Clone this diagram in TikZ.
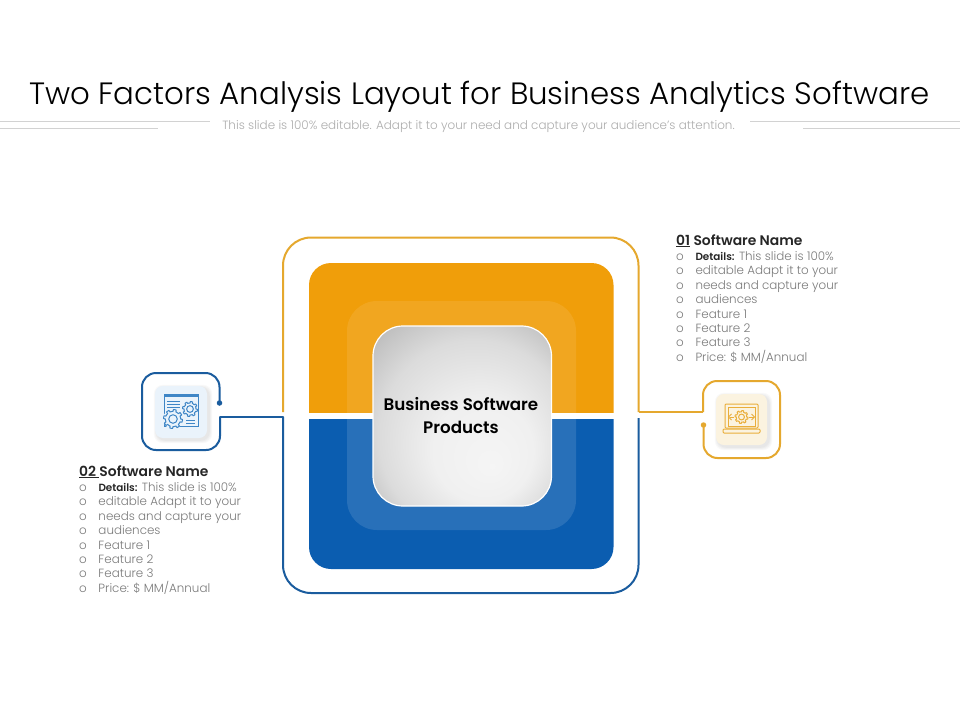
\documentclass[tikz,border=0pt]{standalone}
\usepackage{fontspec}
\setmainfont{Poppins}[UprightFont=* Light,BoldFont=* SemiBold]
\newfontfamily\medfont{Poppins SemiBold}
\usetikzlibrary{calc}
\definecolor{orA}{HTML}{E5A82E}
\definecolor{orB}{HTML}{F09E0A}
\definecolor{blA}{HTML}{1A5C9E}
\definecolor{blB}{HTML}{0B5DB0}
\definecolor{icB}{HTML}{3F86C6}
\definecolor{icO}{HTML}{E9AE3B}
\definecolor{tileB}{HTML}{EAF3FB}
\definecolor{tileO}{HTML}{FBF3E0}
\definecolor{txt}{HTML}{7A7A7A}
\definecolor{hd}{HTML}{262626}
\pgfdeclareradialshading{centershade}{\pgfpoint{0.3cm}{-0.5cm}}{
  color(0cm)=(white!96!black);
  color(0.5cm)=(white!94!black);
  color(0.95cm)=(white!86!black);
  color(1.25cm)=(white!75!black);
  color(1.6cm)=(white!70!black)}
\newcommand{\softshadow}[4]{%
  \foreach \k in {4,3,2,1}{
    \fill[black,opacity=0.022,rounded corners=9pt]
      ({#1+2-\k*0.8},{#2+2-\k*0.8}) rectangle ({#3+2+\k*0.8},{#4+2+\k*0.8});
  }}
\newcommand{\gearicon}[4]{%
  \draw[#4,line width=1pt,line join=round]
    plot[domain=0:360,samples=145,variable=\t,smooth]
      ({#1+#3*(0.8+0.2*(sin(8*\t)>0))*cos(\t)},{#2+#3*(0.8+0.2*(sin(8*\t)>0))*sin(\t)}) -- cycle;
  \draw[#4,line width=1pt] (#1,#2) circle[radius=0.45*#3];}
\tikzset{
  x=1pt,y=-1pt,
  orline/.style={orA,line width=2pt},
  blline/.style={blA,line width=2pt},
  tile/.style={draw=none,rounded corners=8pt,minimum width=52pt,minimum height=52pt,inner sep=0pt,outer sep=0pt},
  sideline/.style={gray!35,line width=0.8pt},
  infotext/.style={anchor=north west,align=left,inner sep=0pt,outer sep=0pt,text=txt,
    font=\fontsize{11.9}{14.4}\selectfont},
  endpoint/.style={circle,minimum size=5.5pt,inner sep=0pt},
  centrefont/.style={font=\fontsize{16.7}{23.5}\selectfont\medfont}
}
\newcommand{\li}[1]{\makebox[19.5pt][l]{o}#1}
\newcommand{\detlabel}{{\fontsize{10.4}{14.4}\selectfont\textbf{\color{hd}Details:}}}
\begin{document}
\begin{tikzpicture}
\useasboundingbox (0,0) rectangle (960,720);
\fill[white] (0,0) rectangle (960,720);

% title
\node[anchor=center,inner sep=0pt,text=black] (title) at (479.5,96.5)
  {\fontsize{30.85}{36}\selectfont Two Factors Analysis Layout for Business Analytics Software};
\node[anchor=center,inner sep=0pt,text=black!32] (sub) at (478.5,126.5)
  {\fontsize{11.95}{13}\selectfont This slide is 100\% editable. Adapt it to your need and capture your audience's attention.};
\coordinate (l1a) at (0,121); \coordinate (l1b) at (210,121);
\coordinate (l2a) at (0,128); \coordinate (l2b) at (158,128);
\coordinate (r1a) at (750,121); \coordinate (r1b) at (960,121);
\coordinate (r2a) at (803,128); \coordinate (r2b) at (960,128);
\draw[sideline] (l1a)--(l1b); \draw[sideline] (l2a)--(l2b);
\draw[sideline] (r1a)--(r1b); \draw[sideline] (r2a)--(r2b);

% blocks
\begin{scope}
  \clip (300,250) rectangle (625,412);
  \fill[orB,rounded corners=22pt] (309,263) rectangle (613.5,569);
  \fill[white,opacity=0.09,rounded corners=30pt] (347,301) rectangle (576,530);
\end{scope}
\begin{scope}
  \clip (300,419) rectangle (625,580);
  \fill[blB,rounded corners=22pt] (309,263) rectangle (613.5,569);
  \fill[white,opacity=0.12,rounded corners=30pt] (347,301) rectangle (576,530);
\end{scope}

% centre
\begin{scope}
  \clip[rounded corners=30pt] (373,326) rectangle (551.5,506);
  \shade[shading=centershade] (373,326) rectangle (551.5,506);
\end{scope}
\draw[white,line width=1.2pt,rounded corners=30pt] (373,326) rectangle (551.5,506);
\node[inner sep=0pt,align=center,text=black,centrefont] (centre) at (461,415.5)
  {Business Software\\Products};

% outer frame
\coordinate (oL) at (283,412); \coordinate (oR) at (638.5,412);
\coordinate (bL) at (283,417); \coordinate (bR) at (638.5,418);
\draw[orline,rounded corners=28pt] (oL)--(283,237.5)--(638.5,237.5)--(oR);
\draw[blline,rounded corners=28pt] (bL)--(283,593)--(638.5,593)--(bR);

% left icon
\softshadow{155}{386}{207}{438}
\node[tile,fill=tileB] (ltile) at (181,412) {};
\coordinate (lJ) at (220,417);
\node[endpoint,fill=blA] (ldot) at (219.5,403) {};
\draw[blline,line cap=round] (bL)--(lJ);
\draw[blline,rounded corners=14pt] (lJ)--(220,450)--(142,450)--(142,373)--(219.5,373)--(ldot.center);
\draw[icB,line width=1pt] (164,394) rectangle (198,426);
\fill[icB] (164,394) rectangle (198,397);
\foreach \yy in {401,404,407}{\draw[icB,line width=0.9pt] (167,\yy)--(180,\yy);}
\foreach \yy in {420,423}{\draw[icB,line width=0.9pt] (186,\yy)--(195,\yy);}
\fill[tileB] (173,419) circle[radius=10];
\fill[tileB] (190,409) circle[radius=8];
\gearicon{173}{419}{9.5}{icB}
\gearicon{190}{409}{7.5}{icB}

% right icon
\softshadow{716}{394}{767}{445}
\node[tile,fill=tileO,minimum width=51pt,minimum height=51pt] (rtile) at (741.5,419.5) {};
\coordinate (rJ) at (703,412);
\node[endpoint,fill=orA] (rdot) at (703.5,425) {};
\draw[orline] (oR)--(rJ);
\draw[orline,rounded corners=14pt] (rJ)--(703,381)--(780,381)--(780,458)--(703.5,458)--(rdot.center);
\draw[icO,line width=1pt,rounded corners=1pt] (725,404) rectangle (758,428);
\draw[icO,line width=1pt] (728,407) rectangle (755,426);
\draw[icO,line width=1pt,rounded corners=1pt] (723,429)--(723,433)--(760,433)--(760,429)--cycle;
\gearicon{741.5}{417}{6.5}{icO}
\foreach \s in {-1,1}{
  \draw[icO,line width=0.9pt] ({741.5+\s*7.5},417)--({741.5+\s*12},417);
  \draw[icO,line width=0.9pt] ({741.5+\s*10},414)--({741.5+\s*13},417)--({741.5+\s*10},420);
}

% texts
\node[anchor=base west,inner sep=0pt,text=hd] (rhead) at (676,245)
  {\fontsize{13.9}{15}\selectfont\medfont\underline{01} Software Name};
\node[infotext] (rinfo) at (676,251.5)
  {\li{\detlabel{} This slide is 100\%}\\
   \li{}editable Adapt it to your\\
   \li{}needs and capture your\\
   \li{}audiences\\
   \li{Feature 1}\\
   \li{Feature 2}\\
   \li{Feature 3}\\
   \li{Price: \$ MM/Annual}};
\node[anchor=base west,inner sep=0pt,text=hd] (lhead) at (79,476)
  {\fontsize{13.9}{15}\selectfont\medfont\underline{02 }Software Name};
\node[infotext] (linfo) at (79,482.5)
  {\li{\detlabel{} This slide is 100\%}\\
   \li{}editable Adapt it to your\\
   \li{}needs and capture your\\
   \li{}audiences\\
   \li{Feature 1}\\
   \li{Feature 2}\\
   \li{Feature 3}\\
   \li{Price: \$ MM/Annual}};
\end{tikzpicture}
\end{document}
